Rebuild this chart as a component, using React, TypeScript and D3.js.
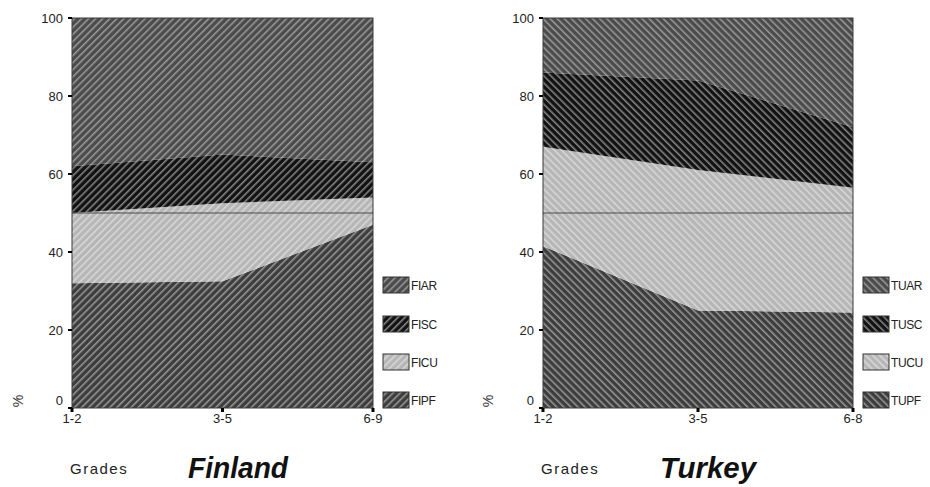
import React from "react";
import * as d3 from "d3";

const finGrades = ["1-2", "3-5", "6-9"];
const turGrades = ["1-2", "3-5", "6-8"];

const finPF = [32, 32.5, 47];
const finCU = [18, 20, 7];
const finSC = [12, 12.5, 9];
const finAR = [38, 35, 37];

const turPF = [41.5, 25, 24.5];
const turCU = [25.5, 36, 32];
const turSC = [19, 23, 15.5];
const turAR = [14, 16, 28];

const finNames = ["FIPF", "FICU", "FISC", "FIAR"];
const turNames = ["TUPF", "TUCU", "TUSC", "TUAR"];
const yTicks = [0, 20, 40, 60, 80, 100];
const refValue = 50;

const bgColors = ["#3d3d3d", "#b6b6b6", "#121212", "#4b4b4b"];
const stripeColors = ["#9a9a9a", "#dadada", "#8a8a8a", "#9c9c9c"];

const FONT = "'Liberation Sans', Arial, sans-serif";

type PanelProps = {
  id: string;
  grades: string[];
  series: number[][];
  names: string[];
  x0: number;
  x1: number;
  angle: number;
  title: string;
  titleX: number;
  titleW: number;
  gradesX: number;
  pctX: number;
};

function Panel(p: PanelProps) {
  const top = 18;
  const bottom = 408;
  const x = d3.scalePoint<string>().domain(p.grades).range([p.x0, p.x1]);
  const y = d3.scaleLinear().domain([0, 100]).range([bottom, top]);
  const rows = p.grades.map((g, i) => {
    const r: any = { g };
    p.names.forEach((n, k) => (r[n] = p.series[k][i]));
    return r;
  });
  const stacked = d3.stack<any>().keys(p.names)(rows);
  const area = d3
    .area<any>()
    .x((d) => x(d.data.g) as number)
    .y0((d) => y(d[0]))
    .y1((d) => y(d[1]));
  const legendTops = [392, 354, 316, 277];
  return (
    <g>
      <defs>
        {p.names.map((n, k) => (
          <pattern
            key={n}
            id={`${p.id}-${k}`}
            patternUnits="userSpaceOnUse"
            width={5}
            height={5}
            patternTransform={`rotate(${p.angle})`}
          >
            <rect width={5} height={5} fill={bgColors[k]} />
            <line x1={0.8} y1={0} x2={0.8} y2={5} stroke={stripeColors[k]} strokeWidth={1.5} />
          </pattern>
        ))}
      </defs>
      {stacked.map((s, k) => (
        <path key={s.key} d={area(s) || ""} fill={`url(#${p.id}-${k})`} />
      ))}
      <line x1={p.x0} x2={p.x1} y1={y(refValue)} y2={y(refValue)} stroke="#4a4a4a" strokeWidth={1} />
      <rect x={p.x0} y={top} width={p.x1 - p.x0} height={bottom - top} fill="none" stroke="#3a3a3a" strokeWidth={1} />
      {yTicks.map((t) => (
        <g key={t}>
          <rect x={p.x0 - 4} y={y(t) - 1} width={4} height={2} fill="#000" />
          <text
            x={p.x0 - 9}
            y={y(t) + (t === 0 ? -8 : 0)}
            dy="0.35em"
            textAnchor="end"
            fontFamily={FONT}
            fontSize={13}
            fill="#222"
          >
            {t}
          </text>
        </g>
      ))}
      {p.grades.map((g) => (
        <g key={g}>
          <rect x={(x(g) as number) - 1.5} y={bottom} width={3} height={4} fill="#000" />
          <text
            x={x(g) as number}
            y={423}
            textAnchor="middle"
            fontFamily={FONT}
            fontSize={13}
            fill="#222"
          >
            {g}
          </text>
        </g>
      ))}
      <text
        transform={`translate(${p.pctX},401) rotate(-90)`}
        textAnchor="middle"
        dy="0.35em"
        fontFamily={FONT}
        fontSize={14}
        fill="#333"
      >
        %
      </text>
      {p.names.map((n, k) => (
        <g key={n}>
          <rect
            x={p.x1 + 10}
            y={legendTops[k]}
            width={26}
            height={16}
            fill={`url(#${p.id}-${k})`}
            stroke="#333"
            strokeWidth={1}
          />
          <text
            x={p.x1 + 38}
            y={legendTops[k] + 12.5}
            fontFamily={FONT}
            fontSize={12}
            fill="#222"
            letterSpacing={-0.4}
          >
            {n}
          </text>
        </g>
      ))}
      <text x={p.gradesX} y={474} fontFamily={FONT} fontSize={15} fill="#222" letterSpacing={1.5}>
        Grades
      </text>
      <text
        x={p.titleX}
        y={478}
        fontFamily={FONT}
        fontSize={29}
        fontWeight="bold"
        fontStyle="italic"
        fill="#111"
        textLength={p.titleW}
        lengthAdjust="spacingAndGlyphs"
      >
        {p.title}
      </text>
    </g>
  );
}

export default function App() {
  return (
    <svg
      width={930}
      height={487}
      style={{ position: "absolute", left: 0, top: 0, background: "#fff" }}
    >
      <rect width={930} height={487} fill="#fff" />
      <Panel
        id="fin"
        grades={finGrades}
        series={[finPF, finCU, finSC, finAR]}
        names={finNames}
        x0={72}
        x1={373}
        angle={45}
        title="Finland"
        titleX={188}
        titleW={100}
        gradesX={70}
        pctX={18}
      />
      <Panel
        id="tur"
        grades={turGrades}
        series={[turPF, turCU, turSC, turAR]}
        names={turNames}
        x0={543}
        x1={853}
        angle={-45}
        title="Turkey"
        titleX={660}
        titleW={96}
        gradesX={541}
        pctX={488}
      />
    </svg>
  );
}
